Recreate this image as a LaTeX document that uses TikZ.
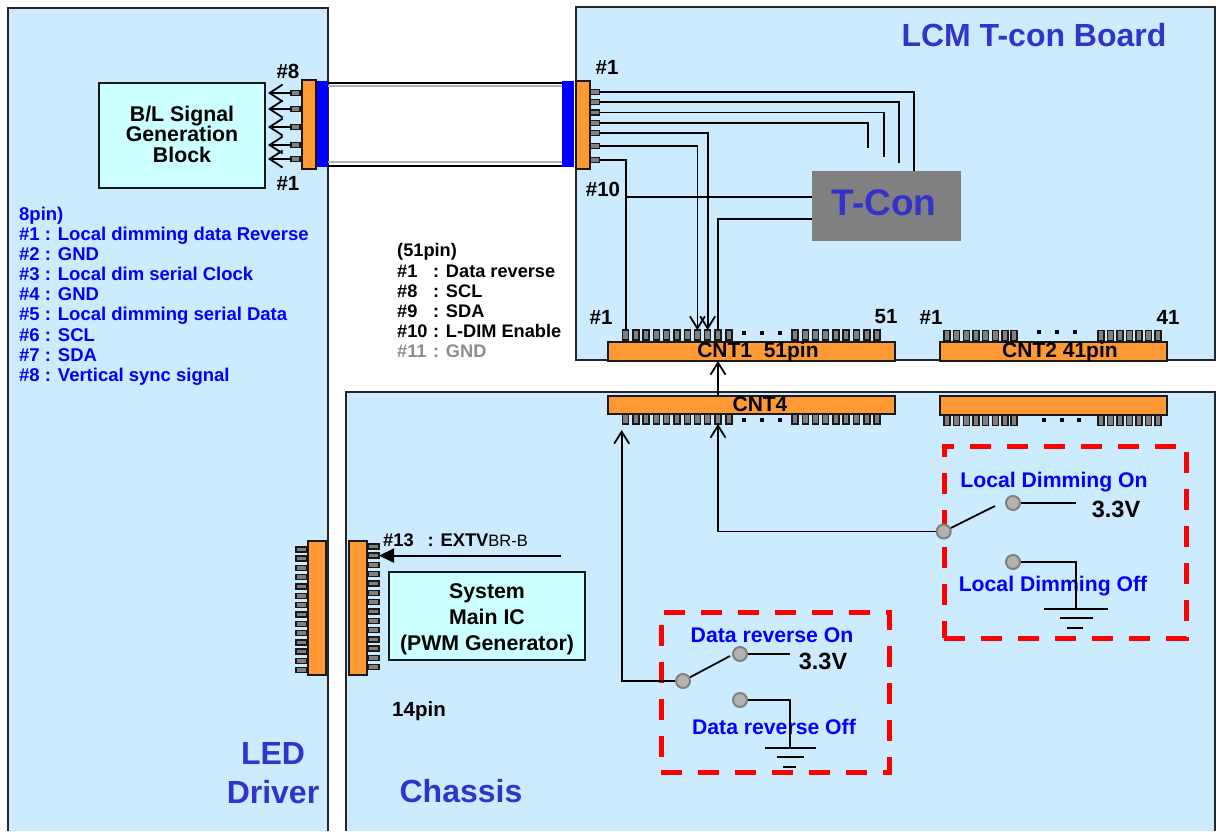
\documentclass[tikz,border=0pt]{standalone}
\usepackage{fontspec}
\setmainfont{Liberation Sans}
\usetikzlibrary{arrows.meta}
\definecolor{panelkek}{HTML}{CCEBFF}
\definecolor{narancs}{HTML}{FF9933}
\definecolor{cian}{HTML}{CCFFFF}
\definecolor{cimkek}{HTML}{3333CC}
\definecolor{szurke}{HTML}{808080}
\definecolor{kapcs}{HTML}{B2B2B2}
\tikzset{
  panel/.style={draw=black!85,line width=1.8pt,fill=panelkek},
  konn/.style={draw=black!90,line width=2pt,fill=narancs,anchor=north west,inner sep=0pt,outer sep=0pt},
  kabel/.style={fill=blue,anchor=north west,inner sep=0pt,outer sep=0pt},
  tuske/.style={draw=black!90,line width=1.4pt,fill=szurke,inner sep=0pt,outer sep=0pt},
  fekvo/.style={tuske,minimum width=9pt,minimum height=5pt},
  allo/.style={tuske,minimum width=6pt,minimum height=10pt},
  pont/.style={fill=black,inner sep=0pt,minimum size=4.5pt},
  doboz/.style={draw=black!90,line width=2pt,fill=cian,anchor=north west,inner sep=0pt,outer sep=0pt},
  piros/.style={draw=red,line width=5pt,dash pattern=on 21pt off 16pt,anchor=north west,inner sep=0pt,outer sep=0pt},
  kapcsolo/.style={circle,draw=szurke,line width=2pt,fill=kapcs,inner sep=0pt,minimum size=14pt},
  vonal/.style={line width=1.8pt},
  nyil/.style={vonal,-{Straight Barb[length=12pt,width=15pt]}},
  cim/.style={text=cimkek,font=\fontsize{32}{34}\selectfont\bfseries,inner sep=0pt},
  szam/.style={font=\fontsize{20.5}{22}\selectfont\bfseries,inner sep=0pt},
  cntszov/.style={font=\fontsize{21}{22}\selectfont\bfseries,inner sep=0pt},
  volt/.style={font=\fontsize{23.5}{25}\selectfont\bfseries,inner sep=0pt},
  lista/.style={anchor=north west,align=left,inner sep=0pt},
  kekszov/.style={text=blue,font=\fontsize{21.2}{23}\selectfont\bfseries,inner sep=0pt},
}

\begin{document}
\begin{tikzpicture}[x=1pt,y=-1pt]
  \useasboundingbox (0,0) rectangle (1216,831);
  % panels
  \draw[panel] (8,831) -- (8,8) -- (328,8) -- (328,831);
  \draw[panel] (576,7) rectangle (1215,360);
  \draw[panel] (346,831) -- (346,392) -- (1215,392) -- (1215,831);
  \node[cim] (lcmcim) at (1034,35) {LCM T-con Board};
  \node[cim] (ledcim) at (273,753) {LED};
  \node[cim] (drvcim) at (273,792) {Driver};
  \node[cim] (chcim) at (461,791) {Chassis};

  % cable between LED driver and T-con board
  \node[kabel,minimum width=12pt,minimum height=86pt] (kekb) at (316,81) {};
  \node[kabel,minimum width=12pt,minimum height=86pt] (kekj) at (562,81) {};
  \draw[line width=1.6pt] ([yshift=-2pt]kekb.north east) -- ([yshift=-2pt]kekj.north west);
  \draw[line width=1.8pt,black!30] ([yshift=-5pt]kekb.north east) -- ([yshift=-5pt]kekj.north west);
  \draw[line width=1.8pt,black!30] ([yshift=5pt]kekb.south east) -- ([yshift=5pt]kekj.south west);
  \draw[line width=1.6pt] ([yshift=1pt]kekb.south east) -- ([yshift=1pt]kekj.south west);
  \node[konn,minimum width=14pt,minimum height=89pt] (kb) at (302,80) {};
  \node[konn,minimum width=14pt,minimum height=88pt] (kj) at (575.5,81) {};

  % B/L side
  \node[doboz,minimum width=166pt,minimum height=105pt] (bl) at (99,83) {};
  \node[align=center,inner sep=0pt,yshift=1.5pt,font=\fontsize{21.3}{20.5}\selectfont\bfseries] (blcim) at (bl) {B/L Signal\\Generation\\Block};
  \foreach \y [count=\i] in {93,109,127,145,159} {
    \node[fekvo] (l\i) at (295.5,\y) {};
    \coordinate (a\i) at (268,\y);
    \draw[vonal,-{Straight Barb[length=13pt,width=17pt]}] (l\i.west) -- (a\i);
  }
  \node[szam] (n8) at (288,71) {\#8};
  \node[szam] (n1) at (288,183) {\#1};

  % T-con board
  \foreach \y [count=\i] in {92,102,112.5,123,133,146,160}
    \node[fekvo] (r\i) at (595,\y) {};
  \node[szam] (m1) at (607,67) {\#1};
  \node[szam] (m10) at (603,189) {\#10};
  \node[fill=szurke,anchor=north west,inner sep=0pt,outer sep=0pt,minimum width=149pt,minimum height=70pt] (tcon) at (812,171) {};
  \node[text=cimkek,font=\fontsize{37}{40}\selectfont\bfseries,inner sep=0pt] (tconcim) at (884,203) {T-Con};

  \node[konn,minimum width=287pt,minimum height=19pt] (cnt1) at (608,342) {};
  \node[cntszov] (cnt1cim) at (758,352) {CNT1\ \ 51pin};
  \node[konn,minimum width=227pt,minimum height=19pt] (cnt2) at (940,342) {};
  \node[cntszov] (cnt2cim) at (1060,352) {CNT2 41pin};
  \node[konn,minimum width=287pt,minimum height=18pt] (cnt4) at (608,396) {};
  \node[cntszov] (cnt4cim) at (760,404) {CNT4};
  \node[konn,minimum width=227pt,minimum height=19pt] (cnt3) at (940,396) {};

  % pins of the board connectors
  \foreach \x [count=\i] in {625.7,636,646,656.4,666.7,677,687.2,697.4,707.7,718,729,795,805.2,815.4,825.7,836,846,856.5,866.8,877} {
    \node[allo] (p\i) at (\x,335) {};
    \node[allo] (q\i) at (\x,419) {};
  }
  \foreach \x [count=\i] in {947,956.7,966.3,976,985.6,995.3,1005,1014,1101,1110.5,1120,1129.5,1139,1148.5,1158} {
    \node[allo] (s\i) at (\x,335.5) {};
    \node[allo] (t\i) at (\x,420.5) {};
  }
  \foreach \x [count=\i] in {744,762,780} {
    \node[pont] (dp\i) at (\x,333) {};
    \node[pont] (dq\i) at (\x,420) {};
  }
  \foreach \x [count=\i] in {1039,1057,1075}
    \node[pont] (ds\i) at (\x,332) {};
  \foreach \x [count=\i] in {1044,1062,1079}
    \node[pont] (dt\i) at (\x,420) {};
  \node[szam] (pa1) at (601,317) {\#1};
  \node[szam] (pa51) at (886,317) {51};
  \node[szam] (pb1) at (931,317) {\#1};
  \node[szam] (pb41) at (1168,317) {41};

  % wiring to T-con and CNT1
  \coordinate (v1) at (914,171);
  \coordinate (v2) at (899,163);
  \coordinate (v3) at (884,157);
  \coordinate (v4) at (868,148);
  \draw[vonal] (r1.east) -| (v1);
  \draw[vonal] (r2.east) -| (v2);
  \draw[vonal] (r3.east) -| (v3);
  \draw[vonal] (r4.east) -| (v4);
  \draw[nyil] (r5.east) -| (p9.north);
  \draw[nyil] (r6.east) -| (p8.north);
  \draw[vonal] (r7.east) -| (p1.north);
  \coordinate (w1) at (625.7,197);
  \draw[vonal] (w1) -- (w1 -| tcon.west);
  \coordinate (w2) at (812,219);
  \draw[vonal] (w2) -| (p10.north);
  \draw[nyil] (q10 |- cnt4.north) -- (q10 |- cnt1.south);

  % 14pin connectors
  \node[konn,minimum width=18pt,minimum height=134pt] (ka) at (308,541) {};
  \node[konn,minimum width=18pt,minimum height=134pt] (kc) at (349,541) {};
  \foreach \i in {1,...,14} {
    \node[fekvo,minimum width=11pt] (ea\i) at (301.5,540+9.3*\i) {};
    \node[fekvo,minimum width=11pt] (ec\i) at (373.5,537+9.3*\i) {};
  }
  \coordinate (ex) at (561,555.6);
  \draw[vonal,-{Triangle[length=15pt,width=14pt]}] (ex) -- (ec2.east);
  \node[anchor=west,inner sep=0pt,font=\fontsize{18.3}{20}\selectfont\bfseries] (excim) at (383,540)
    {\#13\hspace{14pt}: EXTV{\mdseries\fontsize{16.5}{20}\selectfont BR-B}};
  \node[doboz,minimum width=196pt,minimum height=88pt] (sys) at (389,572) {};
  \node[align=center,inner sep=0pt,yshift=-3.5pt,font=\fontsize{21.3}{26}\selectfont\bfseries] (syscim) at (sys) {System\\Main IC\\(PWM Generator)};
  \node[szam] (p14) at (419,711) {14pin};

  % pin lists
  \node[lista,text=blue,font=\fontsize{18.5}{20.15}\selectfont\bfseries] (l8) at (19,206.5)
    {8pin)\\\#1 : Local dimming data Reverse\\\#2 : GND\\\#3 : Local dim serial Clock\\\#4 : GND\\\#5 : Local dimming serial Data\\\#6 : SCL\\\#7 : SDA\\\#8 : Vertical sync signal};
  \node[lista,font=\fontsize{18.2}{20.2}\selectfont\bfseries] (l51) at (397,243.5)
    {(51pin)\\\makebox[36pt][l]{\#1}: Data reverse\\\makebox[36pt][l]{\#8}: SCL\\\makebox[36pt][l]{\#9}: SDA\\\makebox[36pt][l]{\#10}: L-DIM Enable\\\textcolor{black!45}{\makebox[36pt][l]{\#11}: GND}};

  % data reverse switch
  \node[piros,minimum width=228pt,minimum height=160pt] (pir1) at (661,612) {};
  \node[kekszov] (dron) at (772,635) {Data reverse On};
  \node[kekszov] (droff) at (774,727) {Data reverse Off};
  \node[kapcsolo] (k1) at (683,681) {};
  \node[kapcsolo] (k1on) at (740,654) {};
  \node[kapcsolo] (k1off) at (740,700) {};
  \coordinate (k1v) at (790,654);
  \coordinate (k1g) at (790,748);
  \coordinate (k1a) at (730,656);
  \coordinate (k1n) at (621.7,430);
  \draw[vonal] (k1) -- (k1a);
  \draw[vonal] (k1on) -- (k1v);
  \draw[vonal] (k1off) -| (k1g);
  \draw[nyil] (k1) -| (k1n);
  \draw[vonal] (765,748) -- (816,748);
  \draw[vonal] (777,757) -- (804,757);
  \draw[vonal] (783,767) -- (796,767);
  \node[volt] (k1volt) at (823,661) {3.3V};

  % local dimming switch
  \node[piros,minimum width=242pt,minimum height=192pt] (pir2) at (944,446) {};
  \node[kekszov] (ldon) at (1054,482) {Local Dimming On};
  \node[kekszov] (ldoff) at (1053,586) {Local Dimming Off};
  \node[kapcsolo] (k2) at (943.7,531.5) {};
  \node[kapcsolo] (k2on) at (1013,503) {};
  \node[kapcsolo] (k2off) at (1013,562) {};
  \coordinate (k2v) at (1076,503);
  \coordinate (k2g) at (1076,609);
  \coordinate (k2a) at (995,506);
  \draw[vonal] (k2) -- (k2a);
  \draw[vonal] (k2on) -- (k2v);
  \draw[vonal] (k2off) -| (k2g);
  \draw[nyil] (k2) -| (q10.south);
  \draw[vonal] (1044,609) -- (1108,609);
  \draw[vonal] (1060,618) -- (1093,618);
  \draw[vonal] (1067,628) -- (1083,628);
  \node[volt] (k2volt) at (1116,509) {3.3V};
\end{tikzpicture}
\end{document}
